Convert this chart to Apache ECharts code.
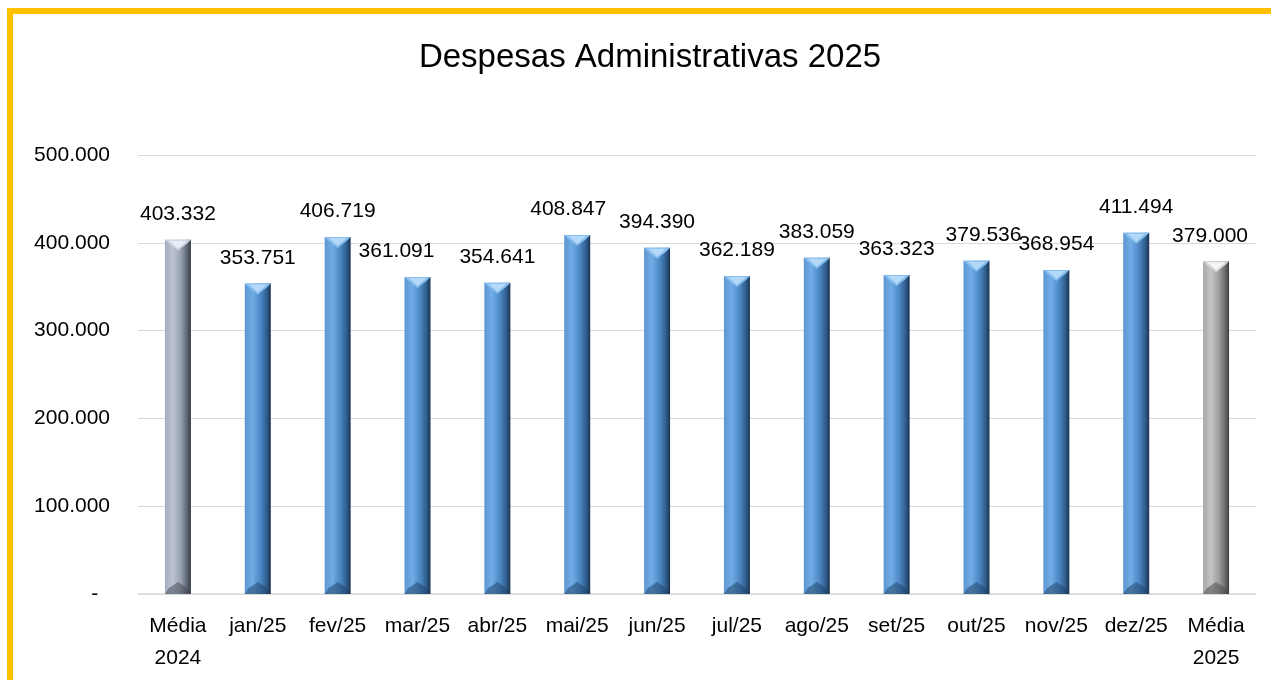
<!DOCTYPE html>
<html lang="pt">
<head>
<meta charset="UTF-8">
<title>Despesas Administrativas 2025</title>
<style>
  html, body { margin: 0; padding: 0; background: #fff; }
  #frame { position: absolute; left: 7px; top: 8px; width: 1264px; height: 672px;
           border-top: 6px solid #FFC000; border-left: 6px solid #FFC000; box-sizing: border-box; }
  #chart { position: absolute; left: 0; top: 0; width: 1271px; height: 680px; }
</style>
</head>
<body>
<div id="frame"></div>
<div id="chart"></div>
<script src="https://cdn.jsdelivr.net/npm/echarts@6/dist/echarts.min.js"></script>
<script>
// dados
var categorias = ['Média\n2024', 'jan/25', 'fev/25', 'mar/25', 'abr/25', 'mai/25', 'jun/25',
                  'jul/25', 'ago/25', 'set/25', 'out/25', 'nov/25', 'dez/25', 'Média\n2025'];
var valores = [403332, 353751, 406719, 361091, 354641, 408847, 394390,
               362189, 383059, 363323, 379536, 368954, 411494, 379000];
// deslocamento horizontal dos rótulos (px), como no original
var deslocRotulo = [0, 0, 0, -21, 0, -9, 0, 0, 0, 0, 7, 0, 0, -6];

function fmt(v) {
    if (v === 0) return '-  ';
    return String(v).replace(/\B(?=(\d{3})+(?!\d))/g, '.');
}

function grad(a, b, c, d, e) {
    return new echarts.graphic.LinearGradient(0, 0, 1, 0, [
        { offset: 0, color: a }, { offset: 0.3, color: b },
        { offset: 0.6, color: c }, { offset: 0.85, color: d }, { offset: 1, color: e }
    ]);
}
var corAzul = grad('#5d97d2', '#70ace6', '#4d88c6', '#2f5d8c', '#1a3250');
var corMedia24 = grad('#a4adbd', '#bcc4d3', '#9aa3b3', '#5f6674', '#343a44');
var corMedia25 = grad('#a8a8a8', '#c4c4c4', '#a0a0a0', '#6a6a6a', '#3e3e3e');
var ultimo = categorias.length - 1;

function corDe(i) {
    if (i === 0) return corMedia24;
    if (i === ultimo) return corMedia25;
    return corAzul;
}

var dadosBarra = valores.map(function (v, i) {
    return {
        value: v,
        itemStyle: { color: corDe(i) },
        label: { offset: [deslocRotulo[i], 0] }
    };
});

var chart = echarts.init(document.getElementById('chart'));
var fonte = 'Liberation Sans, Arial, sans-serif';

var option = {
    animation: false,
    textStyle: { fontFamily: fonte },
    title: {
        text: 'Despesas Administrativas 2025',
        left: 645, top: 36, textAlign: 'center',
        textStyle: { fontSize: 33, fontWeight: 'normal', color: '#000', fontFamily: fonte }
    },
    grid: { left: 138, right: 15, top: 155, bottom: 86 },
    xAxis: {
        type: 'category',
        data: categorias,
        axisLine: { lineStyle: { color: '#d9d9d9', width: 1.5 } },
        axisTick: { show: false },
        axisLabel: { color: '#000', fontSize: 21, lineHeight: 32, margin: 16, interval: 0, fontFamily: fonte }
    },
    yAxis: {
        type: 'value',
        min: 0, max: 500000, interval: 100000,
        axisLine: { show: false },
        axisTick: { show: false },
        splitLine: { lineStyle: { color: '#d9d9d9', width: 1 } },
        axisLabel: { color: '#000', fontSize: 21, margin: 28, formatter: fmt, fontFamily: fonte }
    },
    series: [{
        type: 'bar',
        data: dadosBarra,
        barWidth: 26,
        label: {
            show: true, position: 'top', distance: 15,
            fontSize: 21, color: '#000', fontFamily: fonte,
            formatter: function (p) { return fmt(p.value); }
        }
    }, {
        // chanfros superior e inferior das barras
        type: 'custom',
        silent: true,
        z: 3,
        encode: { x: 0, y: 1 },
        data: valores.map(function (v, i) { return [i, v]; }),
        renderItem: function (params, api) {
            var i = params.dataIndex;
            var topo = api.coord([api.value(0), api.value(1)]);
            var base = api.coord([api.value(0), 0]);
            var w = 26, x0 = topo[0] - w / 2, x1 = topo[0] + w / 2, xm = topo[0];
            var h = 11;
            var claro = i === 0 ? '#e8edf5' : (i === ultimo ? '#f4f4f4' : '#b4d8f7');
            var lado = i === 0 ? '#c9d0dc' : (i === ultimo ? '#d6d6d6' : '#85bdee');
            var escuro = i === 0 ? '#3c424c' : (i === ultimo ? '#444444' : '#1d3d60');
            return {
                type: 'group',
                children: [{
                    type: 'polygon',
                    shape: { points: [[x0, topo[1]], [x1, topo[1]], [x1 - 4, topo[1] + 4], [xm, topo[1] + h], [x0 + 4, topo[1] + 4]] },
                    style: { fill: lado }
                }, {
                    type: 'polygon',
                    shape: { points: [[x0 + 4, topo[1] + 1], [x1 - 4, topo[1] + 1], [xm, topo[1] + h - 2]] },
                    style: { fill: claro }
                }, {
                    type: 'polygon',
                    shape: { points: [[x0, base[1]], [x1, base[1]], [x1 - 4, base[1] - 6], [xm, base[1] - 12], [x0 + 4, base[1] - 6]] },
                    style: { fill: escuro, opacity: 0.5 }
                }]
            };
        }
    }]
};

chart.setOption(option);
</script>
</body>
</html>
